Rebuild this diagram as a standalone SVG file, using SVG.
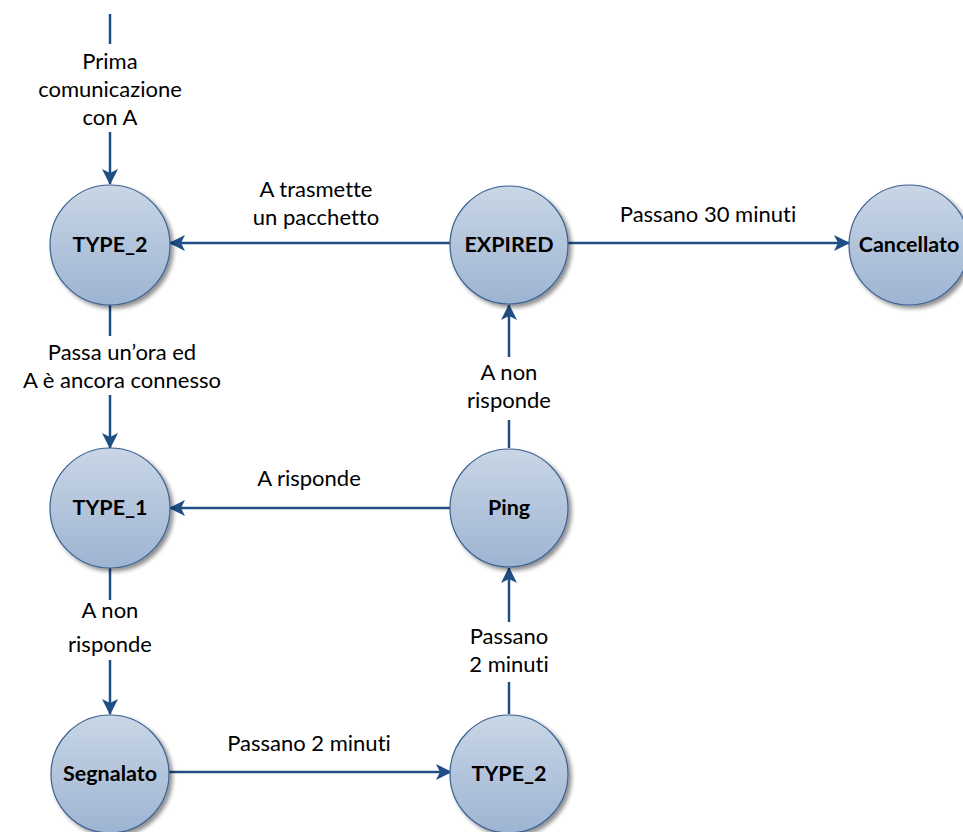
<svg xmlns="http://www.w3.org/2000/svg" width="963" height="832" viewBox="0 0 963 832">
<defs>
<linearGradient id="g" x1="0" y1="0" x2="0" y2="1">
<stop offset="0" stop-color="#c9d6e6"/>
<stop offset="1" stop-color="#9db4d2"/>
</linearGradient>
<filter id="sh" x="-20%" y="-20%" width="150%" height="150%">
<feGaussianBlur in="SourceAlpha" stdDeviation="2"/>
<feOffset dx="3" dy="3" result="b"/>
<feComponentTransfer><feFuncA type="linear" slope="0.45"/></feComponentTransfer>
<feMerge><feMergeNode/><feMergeNode in="SourceGraphic"/></feMerge>
</filter>
<marker id="ah" markerWidth="16" markerHeight="16" viewBox="0 0 16 16" refX="15" refY="8" orient="auto" markerUnits="userSpaceOnUse">
<path d="M0,0 L16,8 L0,16 L4,8 Z" fill="#1f4e84"/>
</marker>
</defs>
<style>
text{font-variant-ligatures:none}
.n circle{fill:url(#g);stroke:#3b6191;stroke-width:1.2;filter:url(#sh)}
.n text{font-family:Lato,"Liberation Sans",sans-serif;font-weight:bold;font-size:21.5px;fill:#000;text-anchor:middle}
.c line{stroke:#1f4e84;stroke-width:2.5}
.c .a{marker-end:url(#ah)}
.l{font-family:Lato,"Liberation Sans",sans-serif;font-size:22px;fill:#000;text-anchor:middle}
</style>
<rect width="963" height="832" fill="#fff"/>
<g class="c" id="connectors">
<line x1="110" y1="14" x2="110" y2="44"/>
<line class="a" x1="110" y1="132" x2="110" y2="184"/>
<line class="a" x1="450" y1="243" x2="170" y2="243"/>
<line class="a" x1="568" y1="243" x2="849" y2="243"/>
<line x1="110" y1="305" x2="110" y2="336"/>
<line class="a" x1="110" y1="395" x2="110" y2="448"/>
<line class="a" x1="450" y1="508" x2="170" y2="508"/>
<line x1="509" y1="448" x2="509" y2="420"/>
<line class="a" x1="509" y1="357" x2="509" y2="305"/>
<line x1="110" y1="568" x2="110" y2="600"/>
<line class="a" x1="110" y1="660" x2="110" y2="714"/>
<line class="a" x1="169" y1="772" x2="451" y2="772"/>
<line x1="509" y1="714" x2="509" y2="682"/>
<line class="a" x1="509" y1="622" x2="509" y2="568"/>
</g>
<g class="labels">
<text class="l" x="110" y="69">Prima</text>
<text class="l" x="110" y="97">comunicazione</text>
<text class="l" x="110" y="125">con A</text>
<text class="l" x="316" y="197">A trasmette</text>
<text class="l" x="316" y="225">un pacchetto</text>
<text class="l" x="708" y="222">Passano 30 minuti</text>
<text class="l" x="122" y="360">Passa un’ora ed</text>
<text class="l" x="122" y="388">A è ancora connesso</text>
<text class="l" x="309" y="486">A risponde</text>
<text class="l" x="509" y="380">A non</text>
<text class="l" x="509" y="408">risponde</text>
<text class="l" x="110" y="618">A non</text>
<text class="l" x="110" y="652">risponde</text>
<text class="l" x="309" y="751">Passano 2 minuti</text>
<text class="l" x="509" y="644">Passano</text>
<text class="l" x="509" y="672">2 minuti</text>
</g>
<g class="n" id="type2a"><circle cx="110" cy="245" r="60"/><text x="110" y="252">TYPE_2</text></g>
<g class="n" id="expired"><circle cx="509" cy="245" r="59"/><text x="509" y="252">EXPIRED</text></g>
<g class="n" id="cancellato"><circle cx="909" cy="245" r="60"/><text x="909" y="252">Cancellato</text></g>
<g class="n" id="type1"><circle cx="110" cy="508" r="60"/><text x="110" y="515">TYPE_1</text></g>
<g class="n" id="ping"><circle cx="509" cy="508" r="59"/><text x="509" y="515">Ping</text></g>
<g class="n" id="segnalato"><circle cx="110" cy="774" r="59"/><text x="110" y="781">Segnalato</text></g>
<g class="n" id="type2b"><circle cx="509" cy="774" r="59"/><text x="509" y="781">TYPE_2</text></g>
</svg>
